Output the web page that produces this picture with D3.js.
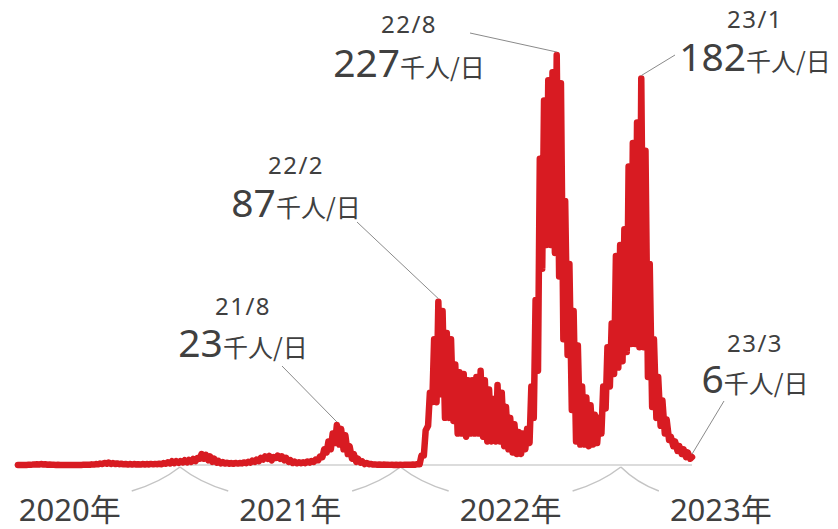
<!DOCTYPE html>
<html>
<head>
<meta charset="utf-8">
<script src="https://cdn.jsdelivr.net/npm/d3@7/dist/d3.min.js"></script>
<style>
  body { margin: 0; background: #fff; }
  svg { display: block; }
  text { fill: #404040; font-family: 'Noto Sans', 'Noto Sans CJK JP', sans-serif; }
</style>
</head>
<body>
<svg class="svg"></svg>
<script>
const firstMonday = '2020-03-09';

const weeklyLow = [
  // 2020
  0.03, 0.03, 0.04, 0.08,  0.25, 0.35, 0.3, 0.15,  0.1, 0.05, 0.03, 0.02,
  0.03, 0.03, 0.04, 0.05, 0.1,  0.15, 0.3, 0.4, 0.6,  0.8, 0.7, 0.6, 0.5, 0.4,
  0.3, 0.3, 0.3, 0.3,  0.35, 0.35, 0.4, 0.5,  0.5, 0.8, 1.0, 1.2, 1.4,  1.6, 1.7, 2.0, 2.5,
  // 2021
  4.0, 4.0, 3.0, 2.0,  1.5, 1.0, 0.9, 0.8,  0.8, 0.9, 1.0, 1.2, 1.5,  2.0, 2.5, 3.5, 4.0,
  3.0, 4.5, 4.0, 3.0, 2.0,  1.3, 1.1, 1.1, 1.2,  1.5, 2.0, 3.0, 5.0,
  8.0, 10.0, 14.0, 13.0, 10.0,  7.0, 4.0, 2.0, 1.5,  0.6, 0.5, 0.25, 0.2,
  0.1, 0.1, 0.08, 0.05, 0.06,  0.08, 0.1, 0.15, 0.2,
  // 2022
  0.5, 6, 25, 40, 40,  45, 30, 30, 28,  20, 20, 18, 20,  20, 20, 18, 15,
  15, 15, 15, 12, 10,  8, 7, 7, 10,  14, 30, 60, 125,
  140, 140, 135, 120, 80,  70, 35, 15, 13,  13, 12, 13, 14, 20,
  36, 50, 58, 62,  66, 72, 77, 77,
  // 2023
  75, 75, 56, 37, 30,  25, 20, 16, 12,  9, 7, 5, 4
];

const weeklyHigh = [
  // 2020
  0.06, 0.05, 0.1, 0.25,  0.5, 0.6, 0.45, 0.25,  0.12, 0.1, 0.05, 0.04,
  0.05, 0.06, 0.07, 0.1, 0.2,  0.4, 0.6, 0.9, 1.3,  1.6, 1.2, 1.0, 0.8, 0.6,
  0.6, 0.6, 0.5, 0.6,  0.6, 0.7, 0.7, 0.8,  1.2, 1.7, 2.4, 2.5, 2.5,  3.0, 3.2, 3.8, 4.5,
  // 2021
  7.0, 6.5, 5.5, 4.0,  2.6, 1.8, 1.5, 1.2,  1.3, 1.3, 1.6, 2.0, 2.8,  3.4, 4.5, 5.5, 5.8,
  5.0, 6.0, 5.5, 4.5, 3.0,  2.2, 1.8, 1.8, 2.2,  2.5, 3.5, 5.4, 10.0,
  15.0, 20.0, 25.5, 23.0, 19.0,  12.0, 7.0, 4.0, 2.3,  1.3, 0.7, 0.4, 0.3,
  0.25, 0.2, 0.2, 0.15, 0.15,  0.15, 0.2, 0.3, 0.5,
  // 2022
  6, 22, 46, 80, 104,  98, 84, 80, 64,  59, 58, 54, 54,  56, 60, 54, 48,
  42, 51, 46, 37, 30,  26, 21, 20, 23,  50, 105, 195, 232,
  245, 250, 261, 243, 168,  128, 98, 76, 50,  43, 38, 32, 30, 50,
  75, 90, 133, 140,  150, 190, 205, 218,
  // 2023
  246, 200, 128, 80, 56,  41, 29, 18, 15,  12, 10, 8, 5
];

const yearLabels = ['2020年', '2021年', '2022年', '2023年'];
const yearStarts = ['2021-01-01', '2022-01-01', '2023-01-01'];

const notes = [
  { month: '2021-08', date: '21/8', value: '23',  cx: 243, y1: 315, y2: 357, from: [282, 366] },
  { month: '2022-02', date: '22/2', value: '87',  cx: 296, y1: 174, y2: 217, from: [357, 222] },
  { month: '2022-08', date: '22/8', value: '227', cx: 409, y1: 33,  y2: 77,  from: [470, 33] },
  { month: '2023-01', date: '23/1', value: '182', cx: 755, y1: 28,  y2: 71,  from: [675, 55] },
  { month: 'last',    date: '23/3', value: '6',   cx: 755, y1: 352, y2: 393, from: [724, 401] }
];

const width = 838;
const height = 529;
const red = '#d81b22';
const parse = d3.utcParse('%Y-%m-%d');
const start = parse(firstMonday);

const points = [];
weeklyLow.forEach((lo, i) => {
  points.push({ d: d3.utcDay.offset(start, 7 * i), v: lo });
  points.push({ d: d3.utcDay.offset(start, 7 * i + 3), v: weeklyHigh[i] });
});

const x = d3.scaleUtc()
  .domain([start, points[points.length - 1].d])
  .range([18, 692]);

const y = d3.scaleLinear()
  .domain([0, 261])
  .range([465, 55]);

const svg = d3.select('.svg')
  .attr('width', width)
  .attr('height', height);

// zero line
svg.append('line')
  .attr('x1', x.range()[0] - 4)
  .attr('x2', x.range()[1])
  .attr('y1', y(0))
  .attr('y2', y(0))
  .attr('stroke', '#dcdcdc')
  .attr('stroke-width', 2);

// year labels + braces
const braceShift = -18;
const apex = yearStarts.map(s => x(parse(s)) + braceShift);
const yearMid = [
  apex[0] - (apex[1] - apex[0]) / 2,
  (apex[0] + apex[1]) / 2,
  (apex[1] + apex[2]) / 2,
  apex[2] + 100
];

const yl = svg.append('g')
  .selectAll('text')
  .data(yearLabels)
  .join('text')
  .attr('x', (d, i) => yearMid[i])
  .attr('y', 521)
  .attr('text-anchor', 'middle')
  .attr('font-size', 31)
  .text(d => d);

const labelExt = [];
yl.each(function(d, i) {
  const w = this.getComputedTextLength();
  labelExt.push([yearMid[i] - w / 2, yearMid[i] + w / 2]);
});

const braceTop = y(0) + 2;
const braceBottom = 491;
const bh = braceBottom - braceTop;
const braceG = svg.append('g')
  .attr('fill', 'none')
  .attr('stroke', '#c4c4c4')
  .attr('stroke-width', 1.5);

apex.forEach((ax, i) => {
  const lEnd = labelExt[i][1] + 11;
  const rEnd = labelExt[i + 1][0] - 11;
  const wl = ax - lEnd;
  const wr = rEnd - ax;
  braceG.append('path')
    .attr('d', `M${lEnd},${braceBottom} Q${lEnd + wl * 0.58},${braceBottom - bh * 0.34} ${ax},${braceTop}`);
  braceG.append('path')
    .attr('d', `M${ax},${braceTop} Q${rEnd - wr * 0.58},${braceBottom - bh * 0.34} ${rEnd},${braceBottom}`);
});

// series
const line = d3.line()
  .x(d => x(d.d))
  .y(d => y(d.v));

svg.append('path')
  .datum(points)
  .attr('d', line)
  .attr('fill', 'none')
  .attr('stroke', red)
  .attr('stroke-width', 6.5)
  .attr('stroke-linejoin', 'round')
  .attr('stroke-linecap', 'round');

// annotations
const fmtMonth = d3.utcFormat('%Y-%m');
notes.forEach(n => {
  let p;
  if (n.month === 'last') {
    p = points[points.length - 1];
  } else {
    p = d3.greatest(points.filter(q => fmtMonth(q.d) === n.month), q => q.v);
  }

  svg.append('line')
    .attr('x1', n.from[0])
    .attr('y1', n.from[1])
    .attr('x2', x(p.d))
    .attr('y2', y(p.v) - 3)
    .attr('stroke', '#8a8a8a')
    .attr('stroke-width', 1);

  svg.append('text')
    .attr('x', n.cx)
    .attr('y', n.y1)
    .attr('text-anchor', 'middle')
    .attr('font-size', 24)
    .attr('letter-spacing', 1.5)
    .text(n.date);

  const t = svg.append('text')
    .attr('x', n.cx)
    .attr('y', n.y2)
    .attr('text-anchor', 'middle');
  t.append('tspan')
    .attr('font-size', 39)
    .text(n.value);
  t.append('tspan')
    .attr('font-size', 25)
    .attr('font-family', "'Noto Sans CJK JP', sans-serif")
    .text('千人/日');
});
</script>
</body>
</html>
